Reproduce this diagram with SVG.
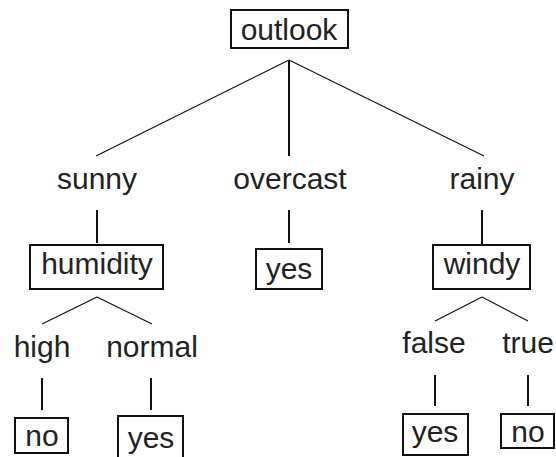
<svg xmlns="http://www.w3.org/2000/svg" width="556" height="457" viewBox="0 0 556 457">
<style>
text{font-family:"Liberation Sans",Arial,sans-serif;font-size:30px;fill:#222;text-anchor:middle}
rect{fill:#fff;stroke:#111;stroke-width:2}
.thin{stroke:#111;stroke-width:1.2;fill:none}
.stem{stroke:#111;stroke-width:2;fill:none}
</style>
<rect x="0" y="0" width="556" height="457" style="fill:#fff;stroke:none"/>
<g id="connectors">
<line class="thin" x1="289" y1="60" x2="96" y2="156"/>
<line class="stem" x1="289" y1="60" x2="289" y2="156"/>
<line class="thin" x1="289" y1="60" x2="484" y2="156"/>
<line class="stem" x1="97" y1="210" x2="97" y2="243"/>
<line class="stem" x1="289" y1="210" x2="289" y2="243"/>
<line class="stem" x1="482" y1="210" x2="482" y2="244"/>
<line class="thin" x1="97" y1="297" x2="42" y2="324"/>
<line class="thin" x1="97" y1="297" x2="152" y2="324"/>
<line class="thin" x1="482" y1="297" x2="435" y2="321"/>
<line class="thin" x1="482" y1="297" x2="528" y2="321"/>
<line class="stem" x1="42" y1="378" x2="42" y2="410"/>
<line class="stem" x1="151" y1="378" x2="151" y2="410"/>
<line class="stem" x1="435" y1="375" x2="435" y2="406"/>
<line class="stem" x1="528" y1="375" x2="528" y2="406"/>
</g>
<g id="outlook"><rect x="231" y="10" width="117" height="38"/><text x="289" y="40">outlook</text></g>
<g id="sunny"><text x="97" y="189">sunny</text></g>
<g id="overcast"><text x="290" y="189">overcast</text></g>
<g id="rainy"><text x="482" y="189">rainy</text></g>
<g id="humidity"><rect x="30" y="245" width="133" height="44"/><text x="97" y="274">humidity</text></g>
<g id="yes1"><rect x="256" y="249" width="66" height="40"/><text x="289" y="279">yes</text></g>
<g id="windy"><rect x="433" y="245" width="97" height="44"/><text x="482" y="274">windy</text></g>
<g id="high"><text x="42" y="357">high</text></g>
<g id="normal"><text x="152" y="357">normal</text></g>
<g id="false"><text x="434" y="353">false</text></g>
<g id="true"><text x="528" y="353">true</text></g>
<g id="no1"><rect x="15" y="418" width="53" height="35"/><text x="42" y="446">no</text></g>
<g id="yes2"><rect x="118" y="416" width="65" height="45"/><text x="151" y="448">yes</text></g>
<g id="yes3"><rect x="403" y="414" width="65" height="41"/><text x="435" y="442">yes</text></g>
<g id="no2"><rect x="501" y="414" width="53" height="34"/><text x="528" y="442">no</text></g>
</svg>
